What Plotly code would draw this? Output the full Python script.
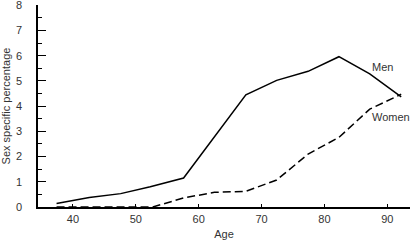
import plotly.graph_objects as go

ages_men = [37.4, 42.6, 47.6, 52.3, 57.6, 62.5, 67.5, 72.4, 77.4, 82.3, 87.2, 92.2]
men = [0.14, 0.38, 0.53, 0.8, 1.15, 2.8, 4.45, 5.02, 5.38, 5.96, 5.28, 4.37]
ages_women = [37.4, 42.6, 47.6, 52.7, 57.6, 62.5, 67.5, 72.4, 77.4, 82.3, 87.2, 92.2]
women = [0.0, 0.0, 0.0, 0.0, 0.36, 0.58, 0.62, 1.07, 2.1, 2.76, 3.88, 4.47]
x_ticks = [40, 50, 60, 70, 80, 90]
labels = [("Men", 89.3, 5.56), ("Women", 90.6, 3.58)]

fig = go.Figure()
fig.add_trace(go.Scatter(x=ages_men, y=men, mode="lines",
                         line=dict(color="black", width=1.5), showlegend=False,
                         cliponaxis=False))
fig.add_trace(go.Scatter(x=ages_women, y=women, mode="lines",
                         line=dict(color="black", width=1.5, dash="8px,4px"), showlegend=False,
                         cliponaxis=False))
for txt, x, y in labels:
    fig.add_annotation(x=x, y=y, text=txt, showarrow=False,
                       font=dict(size=11, color="#333333", family="Liberation Sans, Arial"))

fig.update_layout(
    width=413, height=241,
    margin=dict(l=38, r=3, t=5, b=34, autoexpand=False),
    plot_bgcolor="white", paper_bgcolor="white",
    font=dict(family="Liberation Sans, Arial", size=11, color="#333333"),
)
fig.update_xaxes(range=[34.45, 93.6], tickvals=x_ticks, ticks="inside", ticklen=3,
                 tickcolor="black", showline=True, linecolor="black", linewidth=1.5,
                 showgrid=False, zeroline=False, automargin=False, ticklabelstandoff=1,
                 title=dict(text="Age", standoff=6, font=dict(size=11)))
fig.update_yaxes(range=[0, 8.01], tickmode="linear", tick0=0, dtick=1, ticks="inside", ticklen=8,
                 tickcolor="black", showline=True, linecolor="black", linewidth=1.5,
                 showgrid=False, zeroline=False, ticklabelstandoff=12, automargin=False,
                 ticklabeloverflow="allow",
                 minor=dict(dtick=0.5, ticks="inside", ticklen=4, tickcolor="black"),
                 title=dict(text="Sex specific percentage", standoff=3, font=dict(size=11)))

fig.write_html("out.html", config={"displayModeBar": False},
               post_script="document.body.style.margin='0';document.body.style.overflow='hidden';")
